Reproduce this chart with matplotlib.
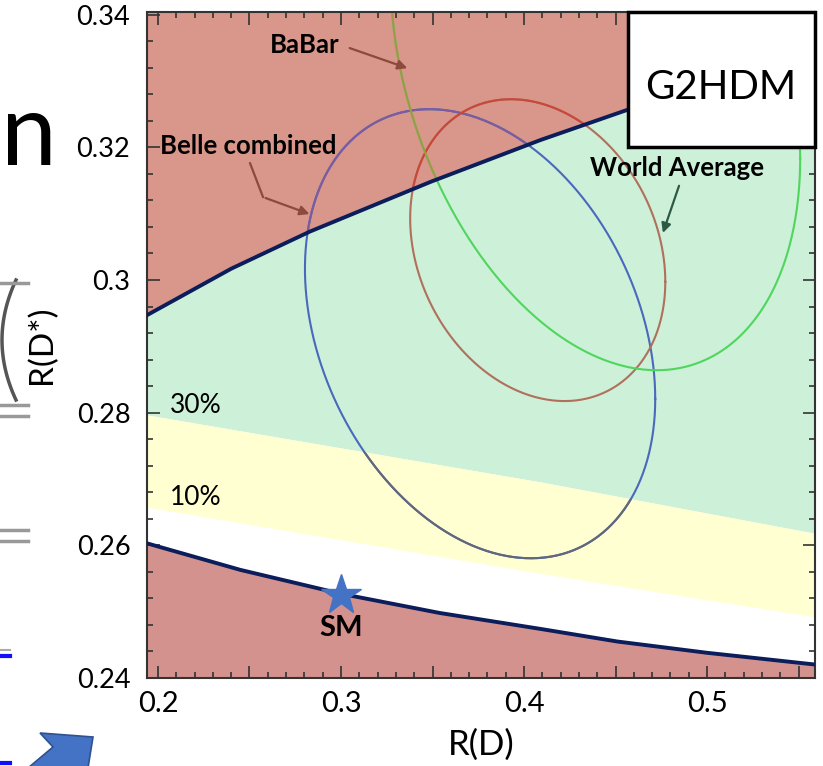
import numpy as np
import matplotlib
matplotlib.use("Agg")
import matplotlib.pyplot as plt
from matplotlib.ticker import MultipleLocator, FuncFormatter
from matplotlib.patches import Polygon, Rectangle
from matplotlib.lines import Line2D

plt.rcParams['font.family'] = ['Lato', 'DejaVu Sans']

# ---- model boundaries in the R(D) - R(D*) plane ----
upper_x = [0.194, 0.240, 0.283, 0.349, 0.409, 0.457, 0.560]
upper_y = [0.2947, 0.3017, 0.3073, 0.3148, 0.3211, 0.3257, 0.3340]

lower_x = [0.194, 0.245, 0.300, 0.354, 0.409, 0.451, 0.500, 0.560]
lower_y = [0.2603, 0.2563, 0.2527, 0.2498, 0.2474, 0.2455, 0.2438, 0.2420]

# enhancement bands (30% and 10% lines)
band_x = [0.194, 0.409, 0.560]
band30_y = [0.2796, 0.2695, 0.2617]
band10_y = [0.2657, 0.2557, 0.2491]

# experimental contours: centre, widths and correlation
ell_names = ["Belle combined", "World Average", "BaBar"]
ell_cx = [0.376, 0.4075, 0.439]
ell_cy = [0.2919, 0.3045, 0.332]
ell_sx = [0.0957, 0.0697, 0.1119]
ell_sy = [0.03385, 0.02275, 0.0456]
ell_rho = [-0.29, -0.21, -0.30]
# line colour as seen on the green, red and yellow backgrounds
ell_col_green = ["#4a68bc", "#b0705c", "#4fd65c"]
ell_col_red = ["#7d5c9e", "#c8483a", "#9c9a48"]
ell_col_yellow = ["#626878", "#b07060", "#4fd65c"]

# Standard Model point
sm_x, sm_y = 0.300, 0.2525

XLIM = (0.194, 0.559)
YLIM = (0.240, 0.3404)

fig = plt.figure(figsize=(8.23, 7.66), dpi=100)
W, H = 823, 766
ax = fig.add_axes([147 / W, 1 - 678 / H, 668 / W, 666 / H])
ax.set_xlim(*XLIM)
ax.set_ylim(*YLIM)

# ---- shaded regions ----
red_top = ax.fill(upper_x + [upper_x[-1], upper_x[0]], upper_y + [0.36, 0.36],
                  color="#d9968a", lw=0, zorder=1)[0]
ax.fill(upper_x + band_x[::-1], upper_y + band30_y[::-1],
        color="#cdf0d8", lw=0, zorder=1)
yellow = ax.fill(band_x + band_x[::-1], band10_y + band30_y[::-1],
                 color="#ffffd2", lw=0, zorder=1)[0]
ax.fill(lower_x + [lower_x[-1], lower_x[0]], lower_y + [0.23, 0.23],
        color="#d3928d", lw=0, zorder=1)

# ---- contours ----
t = np.linspace(0, 2 * np.pi, 500)
for i in range(len(ell_names)):
    cx, cy, sx, sy, rho = ell_cx[i], ell_cy[i], ell_sx[i], ell_sy[i], ell_rho[i]
    ex = cx + sx * np.cos(t)
    ey = cy + sy * (rho * np.cos(t) + np.sqrt(1 - rho ** 2) * np.sin(t))
    ax.plot(ex, ey, color=ell_col_green[i], lw=1.5, zorder=2)
    ln_r, = ax.plot(ex, ey, color=ell_col_red[i], lw=1.5, zorder=2.1)
    ln_r.set_clip_path(red_top)
    ln_y, = ax.plot(ex, ey, color=ell_col_yellow[i], lw=1.5, zorder=2.1)
    ln_y.set_clip_path(yellow)

# ---- boundary curves ----
ax.plot(upper_x, upper_y, color="#0b1d5a", lw=2.8, zorder=3, solid_joinstyle="round")
ax.plot(lower_x, lower_y, color="#0b1d5a", lw=2.8, zorder=3, solid_joinstyle="round")

# ---- SM point ----
ax.plot([sm_x], [sm_y], marker="*", ms=30, color="#4472c4", mec="#4472c4", zorder=4)
ax.text(sm_x, 0.2476, "SM", fontsize=21, fontweight="bold", ha="center", va="center", zorder=4)

# ---- band labels ----
ax.text(0.2066, 0.2811, "30%", fontsize=19, ha="left", va="center", zorder=4)
ax.text(0.2066, 0.2672, "10%", fontsize=19, ha="left", va="center", zorder=4)

# ---- experiment labels with arrows ----
brown = "#8a4a3c"
ax.text(0.2803, 0.3354, "BaBar", fontsize=18.5, fontweight="bold", ha="center", va="center", zorder=4)
ax.annotate("", xy=(0.3377, 0.3318), xytext=(0.3033, 0.3351),
            arrowprops=dict(arrowstyle="-|>", color=brown, lw=1.6, mutation_scale=14), zorder=4)

ax.text(0.2492, 0.3202, "Belle combined", fontsize=18.5, fontweight="bold", ha="center", va="center", zorder=4)
ax.plot([0.2503, 0.2574], [0.3176, 0.3125], color=brown, lw=1.6, zorder=4)
ax.annotate("", xy=(0.2842, 0.3098), xytext=(0.2574, 0.3125),
            arrowprops=dict(arrowstyle="-|>", color=brown, lw=1.6, mutation_scale=14), zorder=4)

ax.text(0.4836, 0.3169, "World Average", fontsize=18.5, fontweight="bold", ha="center", va="center", zorder=4)
ax.annotate("", xy=(0.4754, 0.3067), xytext=(0.4852, 0.3146),
            arrowprops=dict(arrowstyle="-|>", color="#2d5a45", lw=1.6, mutation_scale=14), zorder=4)

# ---- model tag ----
ax.add_patch(Rectangle((0.72, 0.797), 0.28, 0.203, transform=ax.transAxes, facecolor="white",
                       edgecolor="black", lw=2.5, zorder=6, clip_on=False))
ax.text(0.859, 0.886, "G2HDM", transform=ax.transAxes, fontsize=29, ha="center", va="center", zorder=7)

# ---- axes styling ----
ax.xaxis.set_major_locator(MultipleLocator(0.05))
ax.xaxis.set_minor_locator(MultipleLocator(0.01))
ax.yaxis.set_major_locator(MultipleLocator(0.02))
ax.yaxis.set_minor_locator(MultipleLocator(0.004))


def xfmt(v, pos):
    r = round(v, 3)
    return f"{r:g}" if abs(r * 10 - round(r * 10)) < 1e-6 else ""


ax.xaxis.set_major_formatter(FuncFormatter(xfmt))
ax.yaxis.set_major_formatter(FuncFormatter(lambda v, p: f"{round(v, 3):g}"))
ax.tick_params(which="both", direction="in", top=True, right=True, color="#333333", width=1.2)
ax.tick_params(which="major", length=9)
ax.tick_params(which="minor", length=4.5)
ax.tick_params(axis="x", labelsize=21, pad=9)
ax.tick_params(axis="y", labelsize=19.5, pad=12)
for s in ax.spines.values():
    s.set_color("#333333")
    s.set_linewidth(1.5)

ax.set_xlabel("R(D)", fontsize=25, labelpad=9)
ax.set_ylabel("R(D*)", fontsize=24, labelpad=14)

# ---- surrounding slide fragments ----
fig.text(1 / W, 1 - 165 / H, "n", fontsize=72, ha="left", va="baseline", color="black")
yy = np.linspace(280, 400, 60)
xx = 2 + 14 * ((yy - 340) / 60) ** 2
fig.add_artist(Line2D(xx / W, 1 - yy / H, color="#555555", lw=2.5))
for yb in [283, 405, 416, 530, 541]:
    fig.add_artist(Line2D([0, 28 / W], [1 - yb / H, 1 - yb / H], color="#999999", lw=2.5))
fig.add_artist(Line2D([0, 10 / W], [1 - 650 / H, 1 - 650 / H], color="#aaaaaa", lw=1.5))
fig.add_artist(Line2D([0, 10 / W], [1 - 656 / H, 1 - 656 / H], color="#1010ff", lw=3))
fig.add_artist(Line2D([0, 10 / W], [1 - 763 / H, 1 - 763 / H], color="#1010ff", lw=3))
arrow_px = [(28, 768), (53, 747), (40, 733), (93, 737), (88, 768)]
fig.add_artist(Polygon([(x / W, 1 - y / H) for x, y in arrow_px], closed=True,
                       transform=fig.transFigure, facecolor="#4472c4", edgecolor="#2f528f", lw=1.2))

fig.savefig("out.png", dpi=100)
